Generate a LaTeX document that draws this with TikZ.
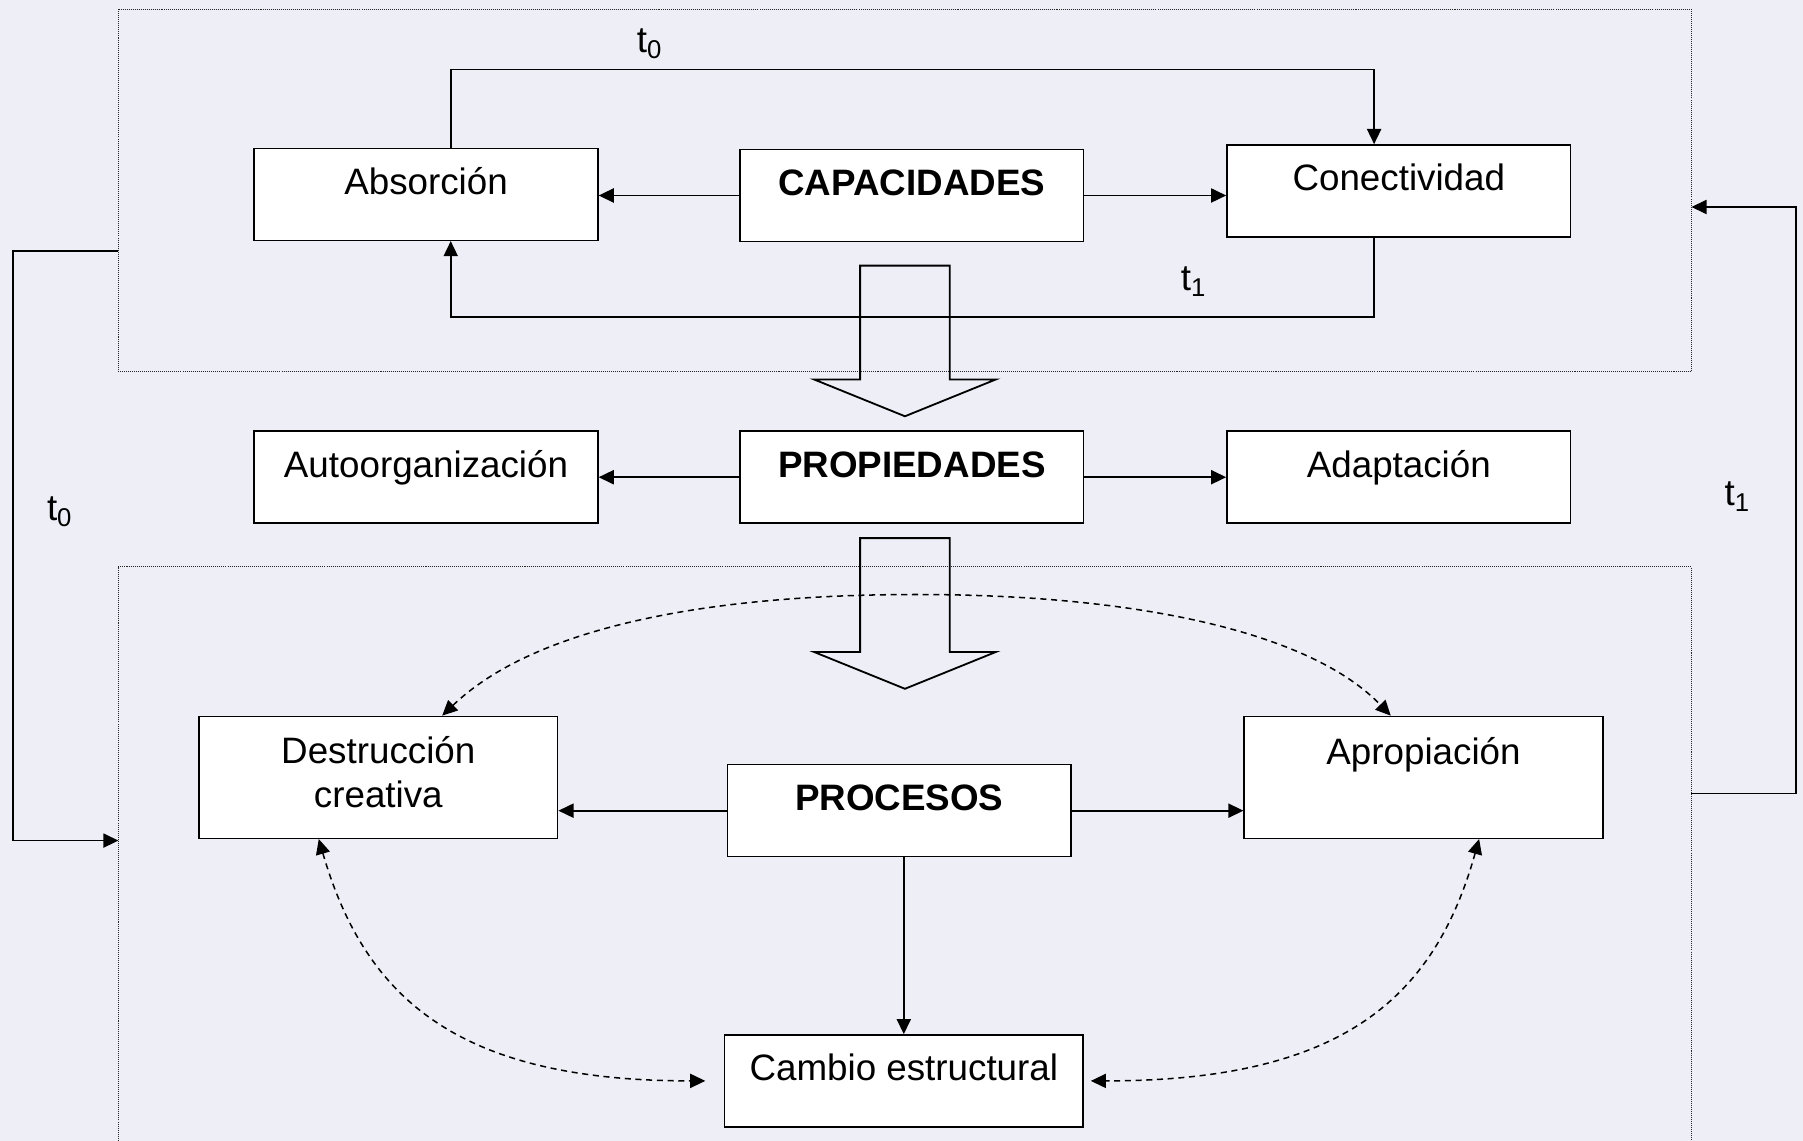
\documentclass[tikz,border=0pt]{standalone}
\usepackage{fontspec}
\setmainfont{Liberation Sans}
\usetikzlibrary{arrows.meta}
\definecolor{fondo}{RGB}{238,238,246}

\begin{document}
\begin{tikzpicture}[x=0.02cm, y=-0.02cm,
    every node/.style={font=\fontsize{18.2}{21.8}\selectfont},
    caja/.style={draw, fill=white, line width=0.75pt, inner sep=0pt,
        minimum width=5.98cm, minimum height=1.6cm, text height=.45cm, text depth=.45cm},
    cajaalta/.style={caja, minimum width=6.24cm, minimum height=2.12cm},
    flecha/.style={line width=0.85pt, -{Triangle[length=7.5pt, width=7pt]}},
    discont/.style={line width=0.75pt, dash pattern=on 3pt off 2.3pt,
        {Triangle[length=7.5pt, width=7pt]}-{Triangle[length=7.5pt, width=7pt]}},
    marco/.style={line width=0.55pt, dash pattern=on 0.5pt off 0.5pt, black!85},
    bloque/.style={line width=0.9pt}]

        % Fondo
        \useasboundingbox (0,0) rectangle (1568,992);
        \fill[fondo] (0,0) rectangle (1568,992);

        % Marcos punteados
        \draw[marco] (103,8) rectangle (1471,323);
        \draw[marco] (103,992) -- (103,493) -- (1471,493) -- (1471,992);

        % Capacidades
        \node[caja] (absor) at (370.5,169) {Absorción};
        \node[caja] (capac) at (793,170) {\bfseries CAPACIDADES};
        \node[caja] (conect) at (1216.5,166) {Conectividad};

        % Propiedades
        \node[caja] (autoorg) at (370.5,415) {Autoorganización};
        \node[caja] (propie) at (793,415) {\bfseries PROPIEDADES};
        \node[caja] (adapt) at (1216.5,415) {Adaptación};

        % Procesos
        \node[cajaalta, align=center, text height=1.06cm, text depth=] (destr) at (329,676) {Destrucción\\creativa};
        \node[caja] (procs) at (782,705) {\bfseries PROCESOS};
        \node[cajaalta, text depth=.91cm] (aprop) at (1238,676) {Apropiación};
        \node[caja, minimum width=6.24cm] (cambio) at (786,940) {Cambio estructural};

        % Flechas gruesas
        \draw[bloque] (748,231) -- (826,231) -- (826,330) -- (866,330) -- (787,362) -- (708,330) -- (748,330) -- cycle;
        \draw[bloque] (748,468) -- (826,468) -- (826,567) -- (866,567) -- (787,599) -- (708,567) -- (748,567) -- cycle;

        % Conexiones
        \draw[flecha] (capac.west) -- (capac.west -| absor.east);
        \draw[flecha] (capac.east) -- (capac.east -| conect.west);
        \draw[flecha] ([xshift=.43cm]absor.north) -- ++(0,-68) -| ([xshift=-.43cm]conect.north);
        \draw[flecha] ([xshift=-.43cm]conect.south) -- ++(0,69) -| ([xshift=.43cm]absor.south);
        \draw[flecha] (propie.west) -- (autoorg.east);
        \draw[flecha] (propie.east) -- (adapt.west);
        \draw[flecha] (procs.west) -- (procs.west -| destr.east);
        \draw[flecha] (procs.east) -- (procs.east -| aprop.west);
        \draw[flecha] (procs.south -| cambio.north) -- (cambio.north);

        % Relaciones discontinuas
        \draw[discont] (destr.44) .. controls (460,550) and (600,517) .. (797,517)
            .. controls (990,517) and (1140,550) .. (aprop.118);
        \draw[discont] (destr.-134) .. controls (318,870) and (400,940) .. ([xshift=-.32cm]cambio.west);
        \draw[discont] (aprop.-48) .. controls (1247,870) and (1165,940) .. ([xshift=.12cm]cambio.east);

        % Retroalimentacion entre marcos
        \coordinate (salidasup) at (103,218);
        \coordinate (entradainf) at (103,731);
        \coordinate (salidainf) at (1471,690);
        \coordinate (entradasup) at (1471,180);
        \draw[flecha] (salidasup) -- ++(-92,0) |- (entradainf);
        \draw[flecha] (salidainf) -- ++(91,0) |- (entradasup);

        % Etiquetas de tiempo
        \node (tcerosup) at (565,38) {t\textsubscript{0}};
        \node (tunomed) at (1038,245) {t\textsubscript{1}};
        \node (tceroizq) at (52,445) {t\textsubscript{0}};
        \node (tunoder) at (1511,432) {t\textsubscript{1}};
\end{tikzpicture}
\end{document}
